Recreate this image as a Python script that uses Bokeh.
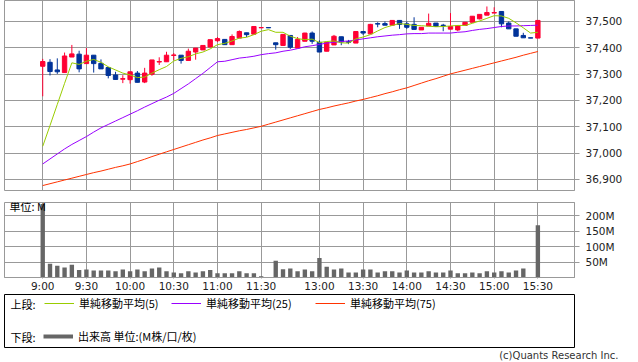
from bokeh.plotting import figure
from bokeh.models import (ColumnDataSource, Range1d, FixedTicker, NumeralTickFormatter,
                          PrintfTickFormatter, Label, Legend, LegendItem, Title)
from bokeh.layouts import column
from bokeh.embed import file_html
from bokeh.resources import INLINE

# ---- data (5-minute slots, 9:00 = slot 0, lunch gap at slot 31) ----
slots = list(range(69))
opens = [37330, 37345, 37316, 37306, 37365, 37376, 37340, 37372, 37341, 37325,
         37297, 37281, 37279, 37304, 37270, 37300, 37346, 37347, 37371, 37372,
         37352, 37384, 37392, 37403, 37427, 37432, 37412, 37437, 37457, 37452,
         37476, 37477, 37419, 37409, 37447, 37399, 37425, 37456, 37421, 37387,
         37411, 37442, 37423, 37418, 37462, 37453, 37492, 37492, 37486, 37504,
         37491, 37489, 37468, 37483, 37494, 37486, 37471, 37468, 37485, 37497,
         37510, 37524, 37532, 37538, 37494, 37472, 37447, 37438, 37437]
highs = [37358, 37357, 37360, 37382, 37411, 37389, 37399, 37372, 37356, 37325,
         37309, 37296, 37309, 37312, 37324, 37354, 37364, 37385, 37380, 37372,
         37397, 37399, 37409, 37431, 37441, 37432, 37451, 37466, 37457, 37481,
         37478, 37477, 37419, 37451, 37447, 37441, 37457, 37462, 37428, 37421,
         37449, 37442, 37430, 37462, 37462, 37491, 37497, 37500, 37504, 37504,
         37500, 37516, 37478, 37530, 37494, 37491, 37532, 37484, 37497, 37520,
         37527, 37557, 37554, 37538, 37500, 37472, 37457, 37438, 37504]
lows = [37216, 37295, 37301, 37306, 37365, 37307, 37340, 37306, 37320, 37284,
        37280, 37266, 37264, 37269, 37266, 37294, 37335, 37347, 37353, 37340,
        37352, 37355, 37392, 37403, 37422, 37412, 37412, 37437, 37441, 37452,
        37475, 37475, 37393, 37407, 37396, 37399, 37425, 37415, 37384, 37387,
        37411, 37410, 37414, 37418, 37449, 37453, 37478, 37486, 37486, 37472,
        37472, 37470, 37468, 37483, 37481, 37463, 37471, 37463, 37485, 37497,
        37508, 37524, 37532, 37478, 37472, 37444, 37438, 37437, 37437]
closes = [37348, 37310, 37309, 37369, 37377, 37320, 37372, 37340, 37320, 37295,
          37280, 37283, 37309, 37269, 37304, 37354, 37348, 37372, 37373, 37352,
          37387, 37399, 37409, 37431, 37435, 37412, 37443, 37462, 37450, 37481,
          37477, 37476, 37412, 37451, 37402, 37432, 37456, 37425, 37384, 37421,
          37444, 37422, 37421, 37462, 37456, 37489, 37490, 37486, 37504, 37489,
          37478, 37470, 37478, 37493, 37481, 37484, 37481, 37484, 37497, 37520,
          37527, 37534, 37534, 37491, 37472, 37444, 37438, 37437, 37504]
ma5 = [37026, 37105, 37185, 37265, 37343, 37337, 37349, 37356, 37345, 37328,
       37316, 37304, 37297, 37287, 37289, 37304, 37317, 37329, 37350, 37360,
       37366, 37377, 37384, 37396, 37412, 37417, 37426, 37437, 37440, 37450,
       37463, 37469, 37459, 37459, 37444, 37435, 37431, 37433, 37420, 37424,
       37426, 37419, 37418, 37434, 37441, 37450, 37464, 37477, 37485, 37492,
       37489, 37485, 37484, 37482, 37480, 37481, 37483, 37485, 37485, 37493,
       37502, 37512, 37522, 37521, 37512, 37495, 37476, 37456, 37459]
ma25 = [36959, 36978, 36997, 37016, 37033, 37048, 37063, 37080, 37096, 37109,
        37122, 37135, 37148, 37161, 37175, 37188, 37201, 37213, 37227, 37245,
        37263, 37283, 37303, 37325, 37347, 37349, 37355, 37361, 37364, 37368,
        37374, 37378, 37381, 37387, 37391, 37397, 37404, 37408, 37413, 37418,
        37421, 37424, 37426, 37430, 37434, 37438, 37442, 37445, 37448, 37450,
        37453, 37454, 37454, 37456, 37456, 37456, 37456, 37459, 37461, 37466,
        37470, 37473, 37477, 37481, 37483, 37483, 37484, 37485, 37486]
ma75 = [36877, 36884, 36891, 36898, 36905, 36912, 36919, 36926, 36932, 36939,
        36946, 36952, 36959, 36968, 36977, 36987, 36996, 37005, 37014, 37023,
        37032, 37041, 37050, 37058, 37067, 37073, 37079, 37085, 37090, 37096,
        37102, 37110, 37118, 37126, 37134, 37142, 37150, 37158, 37166, 37172,
        37179, 37185, 37191, 37198, 37204, 37211, 37218, 37226, 37233, 37241,
        37248, 37257, 37266, 37275, 37283, 37292, 37301, 37308, 37315, 37322,
        37329, 37336, 37343, 37350, 37357, 37364, 37372, 37379, 37386]
volume = [238, 44.5, 38, 32, 41, 24, 26, 23, 23, 23,
          20, 26, 20, 26, 20, 29, 32, 20, 16.5, 13.5,
          20, 16.5, 20, 24, 13.5, 13.5, 13.5, 20, 13.5, 13.5,
          4, 0, 54, 27, 29, 20, 26, 20, 63, 35,
          26, 29, 16.5, 16.5, 26, 26, 16.5, 20, 20, 16.5,
          23, 16.5, 16.5, 20, 16.5, 16.5, 23, 13.5, 13.5, 16.5,
          13.5, 20, 16.5, 20, 16.5, 23, 29, 1, 169]
tick_slots = [0, 6, 12, 18, 24, 30, 38, 44, 50, 56, 62, 68]
tick_labels = ["9:00", "9:30", "10:00", "10:30", "11:00", "11:30",
               "13:00", "13:30", "14:00", "14:30", "15:00", "15:30"]
price_ticks = [36900, 37000, 37100, 37200, 37300, 37400, 37500]
volume_ticks = [50, 100, 150, 200]

UP = "#FF0033"
DOWN = "#003399"
GRID = "#999999"
AXFONT = "DejaVu Sans"
JPFONT = "Noto Sans CJK JP"

src = ColumnDataSource(dict(
    x=slots, high=highs, low=lows,
    top=[max(o, c) for o, c in zip(opens, closes)],
    bottom=[min(o, c) for o, c in zip(opens, closes)],
    color=[UP if c >= o else DOWN for o, c in zip(opens, closes)],
))

xr = Range1d(-5.25, 73.03)

def style_common(p):
    p.outline_line_color = GRID
    p.outline_line_width = 1
    p.outline_line_alpha = 1.0
    for g in p.grid:
        g.grid_line_color = GRID
        g.grid_line_width = 1
        g.grid_line_alpha = 1.0
    for ax in p.yaxis:
        ax.axis_line_color = GRID
        ax.major_tick_line_color = GRID
        ax.major_tick_out = 5
        ax.major_tick_in = 0
        ax.minor_tick_line_color = None
        ax.major_label_standoff = 6
        ax.major_label_text_font = AXFONT
        ax.major_label_text_font_size = "10.5px"
        ax.major_label_text_color = "#222222"

# ---- upper: candles + moving averages ----
p1 = figure(width=638, height=196, x_range=xr, y_range=Range1d(36858.2, 37579.7),
            x_axis_location=None, y_axis_location="right",
            output_backend="svg", toolbar_location=None,
            min_border_left=3, min_border_right=64, min_border_top=0, min_border_bottom=6)
p1.xgrid.ticker = FixedTicker(ticks=tick_slots)
p1.yaxis.ticker = FixedTicker(ticks=price_ticks)
p1.yaxis.formatter = NumeralTickFormatter(format="0,0")
style_common(p1)

p1.segment(x0="x", y0="low", x1="x", y1="high", line_color="color", line_width=1, source=src)
p1.vbar(x="x", width=0.6, top="top", bottom="bottom", fill_color="color",
        line_color="color", line_width=1, source=src)
p1.line(slots, ma75, line_color="#FF3300", line_width=1)
p1.line(slots, ma25, line_color="#9900FF", line_width=1)
p1.line(slots, ma5, line_color="#99CC00", line_width=1)

# ---- lower: volume ----
p2 = figure(width=638, height=98, x_range=xr, y_range=Range1d(0, 242.6),
            y_axis_location="right", output_backend="svg", toolbar_location=None,
            min_border_left=3, min_border_right=64, min_border_top=6, min_border_bottom=14)
p2.xaxis.ticker = FixedTicker(ticks=tick_slots)
p2.xaxis.major_label_overrides = {s: t for s, t in zip(tick_slots, tick_labels)}
p2.xaxis.axis_line_color = GRID
p2.xaxis.major_tick_line_color = GRID
p2.xaxis.major_tick_out = 1
p2.xaxis.major_tick_in = 0
p2.xaxis.major_label_standoff = 1
p2.xaxis.major_label_text_font = AXFONT
p2.xaxis.major_label_text_font_size = "10.5px"
p2.xaxis.major_label_text_color = "#222222"
p2.yaxis.ticker = FixedTicker(ticks=volume_ticks)
p2.yaxis.formatter = PrintfTickFormatter(format="%dM")
style_common(p2)
p2.vbar(x=slots, top=volume, width=0.6, fill_color="#666666", line_color=None)
p2.add_layout(Label(x=5, y=72, x_units="screen", y_units="screen", text="単位: M",
                    text_baseline="middle", text_font=JPFONT, text_font_size="11px",
                    text_color="#000000"))

# ---- legend panel (box) + copyright title below ----
p3 = figure(width=638, height=68, x_range=Range1d(0, 1), y_range=Range1d(0, 1),
            x_axis_location=None, y_axis_location=None,
            output_backend="svg", toolbar_location=None,
            min_border_left=4, min_border_right=3, min_border_top=0, min_border_bottom=15)
p3.xgrid.visible = False
p3.ygrid.visible = False
p3.outline_line_color = "#000000"
p3.outline_line_width = 1

r5 = p3.line(x=[-5, -4], y=[-5, -4], line_color="#99CC00", line_width=1)
r25 = p3.line(x=[-5, -4], y=[-5, -4], line_color="#9900FF", line_width=1)
r75 = p3.line(x=[-5, -4], y=[-5, -4], line_color="#FF3300", line_width=1)
rv = p3.line(x=[-5, -4], y=[-5, -4], line_color="#666666", line_width=4)

def add_leg(label, r, x, y):
    lg = Legend(items=[LegendItem(label=label, renderers=[r])], location=(x, y),
                orientation="horizontal", glyph_width=30, glyph_height=16,
                label_height=16, label_standoff=5, padding=0, margin=0, spacing=0,
                border_line_color=None, background_fill_alpha=0,
                label_text_font=JPFONT, label_text_font_size="11px",
                label_text_color="#000000")
    p3.add_layout(lg)

add_leg("単純移動平均(5)", r5, 40, 36)
add_leg("単純移動平均(25)", r25, 167, 36)
add_leg("単純移動平均(75)", r75, 311, 36)
add_leg("出来高 単位:(M株/口/枚)", rv, 39, 3)

for txt, yy in (("上段:", 44), ("下段:", 11)):
    p3.add_layout(Label(x=6, y=yy, x_units="screen", y_units="screen", text=txt,
                        text_baseline="middle", text_font=JPFONT, text_font_size="11px",
                        text_color="#000000"))

p3.add_layout(Title(text="(c)Quants Research Inc.", align="right", offset=-44,
                    standoff=0, vertical_align="bottom", text_font=AXFONT,
                    text_font_size="10px", text_font_style="normal",
                    text_color="#333333"), "below")

layout = column(p1, p2, p3, spacing=0)
open("out.html", "w").write(file_html(layout, INLINE))
